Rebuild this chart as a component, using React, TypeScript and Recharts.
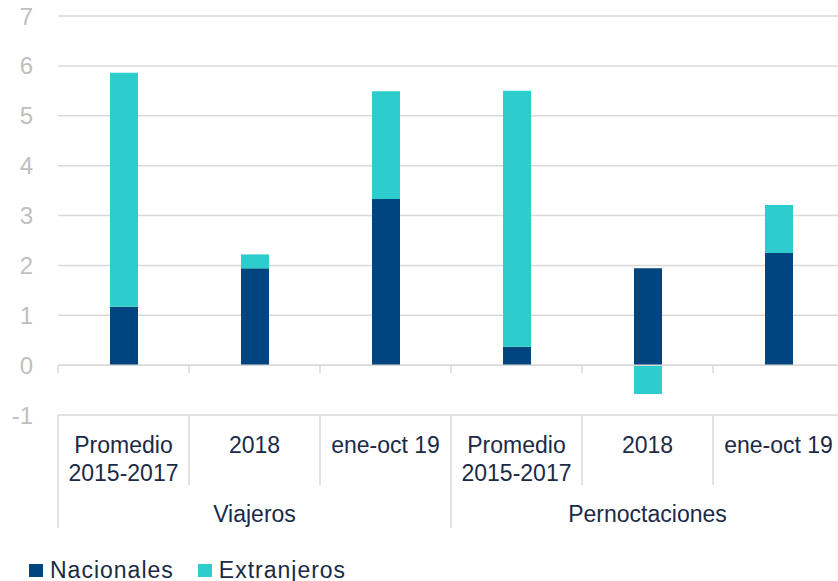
import React from 'react';
import { BarChart, Bar, XAxis, YAxis, CartesianGrid, ReferenceLine, Legend } from 'recharts';

const categories = ['Promedio\n2015-2017', '2018', 'ene-oct 19', 'Promedio\n2015-2017', '2018', 'ene-oct 19'];
const groups = ['Viajeros', 'Viajeros', 'Viajeros', 'Pernoctaciones', 'Pernoctaciones', 'Pernoctaciones'];
const seriesNames = ['Nacionales', 'Extranjeros'];
const nacionales = [1.17, 1.94, 3.33, 0.37, 1.94, 2.25];
const extranjeros = [4.69, 0.28, 2.16, 5.13, -0.58, 0.96];
const yTicks = [-1, 0, 1, 2, 3, 4, 5, 6, 7];

const data = categories.map((c, i) => ({
  cat: c,
  grp: groups[i],
  Nacionales: nacionales[i],
  Extranjeros: extranjeros[i],
}));

const CHART_W = 844;
const CHART_H = 581;
const Y_W = 58;
const M_TOP = 16;
const CAT_H = 70;
const GRP_H = 45;
const LEG_H = 28;
const M_BOTTOM = CHART_H - M_TOP - 399 - CAT_H - GRP_H - LEG_H;
const PLOT_W = CHART_W - Y_W;
const PLOT_H = 399;
const BAND = PLOT_W / categories.length;
const ZERO_OFF = (PLOT_H * (0 - yTicks[0])) / (yTicks[yTicks.length - 1] - yTicks[0]);

const FONT = '"Liberation Sans", Arial, sans-serif';
const TEXT = '#1B2A47';
const GRID = '#D9D9D9';
const DARK = '#00457F';
const TEAL = '#2DCDCD';

const CatTick = (props: any) => {
  const { x, y, payload, index } = props;
  const lines = String(payload.value).split('\n');
  const half = BAND / 2;
  return (
    <g>
      <text x={x} y={y + 38} textAnchor="middle" fill={TEXT} fontSize={23} fontFamily={FONT}>
        {lines.map((l, i) => (
          <tspan key={i} x={x} dy={i === 0 ? 0 : 28}>{l}</tspan>
        ))}
      </text>
      <line x1={x - half} x2={x - half} y1={y} y2={y + CAT_H} stroke={GRID} strokeWidth={1.5} />
      {index === categories.length - 1 && (
        <line x1={x + half} x2={x + half} y1={y} y2={y + CAT_H} stroke={GRID} strokeWidth={1.5} />
      )}
      <line x1={x - half} x2={x - half} y1={y - ZERO_OFF} y2={y - ZERO_OFF + 8} stroke={GRID} strokeWidth={1.5} />
      {index === categories.length - 1 && (
        <line x1={x + half} x2={x + half} y1={y - ZERO_OFF} y2={y - ZERO_OFF + 8} stroke={GRID} strokeWidth={1.5} />
      )}
    </g>
  );
};

const GrpTick = (props: any) => {
  const { x, y, payload, index } = props;
  const half = BAND / 2;
  return (
    <g>
      {index % 3 === 1 && (
        <text x={x} y={y + 37} textAnchor="middle" fill={TEXT} fontSize={23} fontFamily={FONT}>
          {payload.value}
        </text>
      )}
      {index % 3 === 0 && (
        <line x1={x - half} x2={x - half} y1={y} y2={y + 43} stroke={GRID} strokeWidth={1.5} />
      )}
      {index === categories.length - 1 && (
        <line x1={x + half} x2={x + half} y1={y} y2={y + 43} stroke={GRID} strokeWidth={1.5} />
      )}
    </g>
  );
};

const LegendContent = (props: any) => {
  const payload = [...(props.payload || [])].sort(
    (a: any, b: any) => seriesNames.indexOf(a.value) - seriesNames.indexOf(b.value)
  );
  return (
    <div
      style={{
        display: 'flex',
        alignItems: 'center',
        height: LEG_H,
        paddingLeft: 29,
        paddingTop: 3,
        fontFamily: FONT,
        fontSize: 23,
        letterSpacing: 1,
        color: TEXT,
      }}
    >
      {payload.map((e: any) => (
        <span key={e.value} style={{ display: 'flex', alignItems: 'center', marginRight: 24 }}>
          <span style={{ display: 'inline-block', width: 14, height: 13, background: e.color, marginRight: 7 }} />
          {e.value}
        </span>
      ))}
    </div>
  );
};

export default function App() {
  return (
    <div style={{ position: 'absolute', left: 0, top: 0, width: 838, height: 581, overflow: 'hidden', background: '#fff' }}>
      <BarChart
        width={CHART_W}
        height={CHART_H}
        data={data}
        stackOffset="sign"
        barSize={28}
        margin={{ top: M_TOP, right: 0, left: 0, bottom: M_BOTTOM }}
      >
        <CartesianGrid vertical={false} stroke={GRID} strokeWidth={1.5} />
        <YAxis
          domain={[-1, 7]}
          ticks={yTicks}
          interval={0}
          width={Y_W}
          axisLine={false}
          tickLine={false}
          tickSize={0}
          tickMargin={25}
          tick={{ fill: '#BFBFBF', fontSize: 24, fontFamily: FONT }}
        />
        <XAxis
          dataKey="cat"
          height={CAT_H}
          axisLine={false}
          tickLine={false}
          tickSize={0}
          tickMargin={0}
          interval={0}
          tick={<CatTick />}
        />
        <XAxis
          xAxisId="grp"
          dataKey="grp"
          height={GRP_H}
          axisLine={false}
          tickLine={false}
          tickSize={0}
          tickMargin={0}
          interval={0}
          tick={<GrpTick />}
        />
        <Bar dataKey="Nacionales" stackId="a" fill={DARK} isAnimationActive={false} />
        <Bar dataKey="Extranjeros" stackId="a" fill={TEAL} isAnimationActive={false} />
        <ReferenceLine y={0} stroke={GRID} strokeWidth={1.5} />
        <Legend
          verticalAlign="bottom"
          align="left"
          height={LEG_H}
          content={<LegendContent />}
          wrapperStyle={{ left: 0, bottom: 0 }}
        />
      </BarChart>
    </div>
  );
}
